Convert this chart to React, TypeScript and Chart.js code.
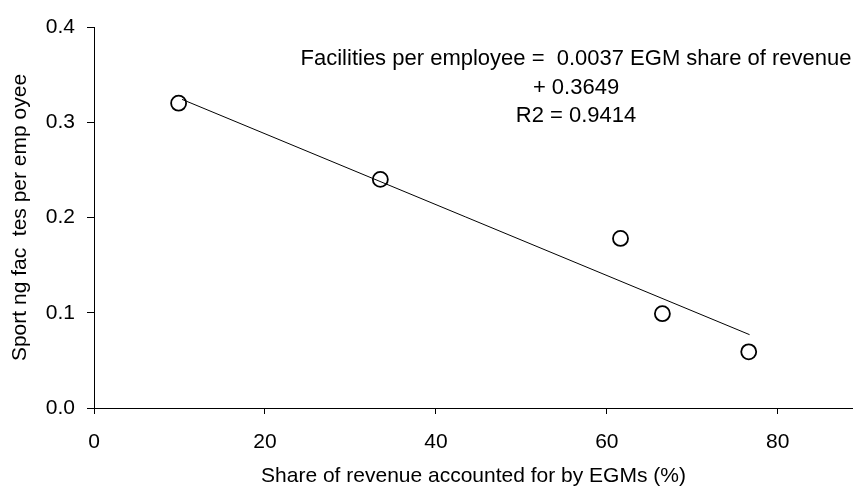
import React, { useEffect, useRef } from "react";
import { Chart, registerables } from "chart.js";

Chart.register(...registerables);

const egmShare = [9.9, 33.5, 61.6, 66.5, 76.6];
const facilitiesPerEmployee = [0.32, 0.24, 0.178, 0.099, 0.059];
const trendShare = [10.3, 76.7];
const trendFacilities = [0.324, 0.077];
const xTickValues = [0, 20, 40, 60, 80];
const yTickValues = [0, 0.1, 0.2, 0.3, 0.4];
const equationLines = [
  "Facilities per employee =  0.0037 EGM share of revenue",
  "+ 0.3649",
  "R2 = 0.9414",
];
const xTitle = "Share of revenue accounted for by EGMs (%)";
const yTitle = "Sport ng fac  tes per emp oyee";

const FONT = "'Liberation Sans', Arial, sans-serif";
const FS = 21;

const equationPlugin = {
  id: "equation",
  afterDraw(chart: any) {
    const ctx = chart.ctx;
    ctx.save();
    ctx.fillStyle = "#000";
    ctx.font = `22px ${FONT}`;
    ctx.textAlign = "center";
    ctx.textBaseline = "alphabetic";
    const baselines = [65, 93.5, 122];
    equationLines.forEach((t, i) => ctx.fillText(t, 576, baselines[i]));
    ctx.restore();
  },
};

export default function App() {
  const ref = useRef<HTMLCanvasElement>(null);
  useEffect(() => {
    document.body.style.margin = "0";
    const canvas = ref.current!;
    const chart = new Chart(canvas, {
      type: "scatter",
      data: {
        datasets: [
          {
            data: egmShare.map((x, i) => ({ x, y: facilitiesPerEmployee[i] })),
            pointRadius: 7.5,
            pointHoverRadius: 7.5,
            borderColor: "#000",
            backgroundColor: "rgba(0,0,0,0)",
            borderWidth: 1.8,
            showLine: false,
            clip: false,
          },
          {
            data: trendShare.map((x, i) => ({ x, y: trendFacilities[i] })),
            showLine: true,
            pointRadius: 0,
            borderColor: "#000",
            borderWidth: 1,
            fill: false,
          },
        ],
      },
      options: {
        animation: false,
        responsive: false,
        devicePixelRatio: 1,
        events: [],
        layout: { autoPadding: false, padding: { top: 27, right: 0, left: 0, bottom: 0 } },
        plugins: { legend: { display: false }, tooltip: { enabled: false } },
        scales: {
          x: {
            type: "linear",
            min: 0,
            max: 88.8,
            afterBuildTicks: (s: any) => {
              s.ticks = xTickValues.map((v) => ({ value: v }));
            },
            afterFit: (s: any) => {
              s.height = 79;
              s.paddingRight = 0;
              s.paddingLeft = 0;
            },
            grid: { drawOnChartArea: false, drawTicks: true, tickLength: 6, color: "#000", lineWidth: 1 },
            border: { display: true, color: "#000", width: 1 },
            ticks: {
              color: "#000",
              font: { family: FONT, size: FS },
              padding: 16,
              maxRotation: 0,
              callback: (v: any) => String(v),
            },
            title: {
              display: true,
              text: xTitle,
              color: "#000",
              font: { family: FONT, size: FS },
              padding: { top: 0, bottom: -2 },
            },
          },
          y: {
            type: "linear",
            min: 0,
            max: 0.4,
            afterBuildTicks: (s: any) => {
              s.ticks = yTickValues.map((v) => ({ value: v }));
            },
            afterFit: (s: any) => {
              s.width = 94;
              s.paddingTop = 0;
              s.paddingBottom = 0;
            },
            grid: { drawOnChartArea: false, drawTicks: true, tickLength: 7, color: "#000", lineWidth: 1 },
            border: { display: true, color: "#000", width: 1 },
            ticks: {
              color: "#000",
              font: { family: FONT, size: FS },
              padding: 12,
              callback: (v: any) => Number(v).toFixed(1),
            },
            title: {
              display: true,
              text: yTitle,
              color: "#000",
              font: { family: FONT, size: FS },
              padding: { top: 8, bottom: 0 },
            },
          },
        },
      },
      plugins: [equationPlugin],
    });
    return () => chart.destroy();
  }, []);
  return <canvas ref={ref} width={853} height={487} style={{ display: "block" }} />;
}
